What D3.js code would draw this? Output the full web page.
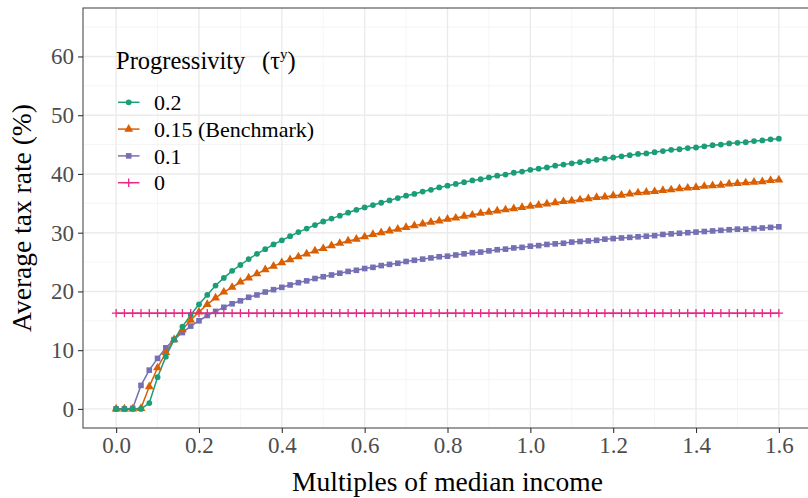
<!DOCTYPE html>
<html>
<head>
<meta charset="utf-8">
<script src="https://cdn.jsdelivr.net/npm/d3@7"></script>
<style>
  body { margin: 0; background: #fff; }
  svg { display: block; }
  svg text { font-family: "Liberation Serif", "Times New Roman", serif; }
</style>
</head>
<body>
<div id="chart"></div>
<script>
// income multiples (x), step 0.02
const incomeMultiples = [0, 0.02, 0.04, 0.06, 0.08, 0.1, 0.12, 0.14, 0.16, 0.18, 0.2, 0.22, 0.24, 0.26, 0.28, 0.3, 0.32, 0.34, 0.36, 0.38, 0.4, 0.42, 0.44, 0.46, 0.48, 0.5, 0.52, 0.54, 0.56, 0.58, 0.6, 0.62, 0.64, 0.66, 0.68, 0.7, 0.72, 0.74, 0.76, 0.78, 0.8, 0.82, 0.84, 0.86, 0.88, 0.9, 0.92, 0.94, 0.96, 0.98, 1, 1.02, 1.04, 1.06, 1.08, 1.1, 1.12, 1.14, 1.16, 1.18, 1.2, 1.22, 1.24, 1.26, 1.28, 1.3, 1.32, 1.34, 1.36, 1.38, 1.4, 1.42, 1.44, 1.46, 1.48, 1.5, 1.52, 1.54, 1.56, 1.58, 1.6];

// average tax rate (%) by progressivity
const rateTau020 = [0, 0, 0, 0, 1.0, 5.4, 8.9, 11.8, 14.0, 16.0, 17.8, 19.4, 21.0, 22.3, 23.5, 24.5, 25.5, 26.4, 27.2, 28.0, 28.7, 29.4, 30.1, 30.7, 31.3, 31.9, 32.4, 32.9, 33.4, 33.9, 34.3, 34.7, 35.1, 35.5, 35.9, 36.3, 36.6, 37.0, 37.3, 37.7, 38.0, 38.3, 38.6, 38.9, 39.1, 39.4, 39.7, 39.9, 40.2, 40.4, 40.7, 40.9, 41.1, 41.4, 41.6, 41.8, 42.0, 42.2, 42.4, 42.6, 42.8, 43.0, 43.2, 43.4, 43.5, 43.7, 43.9, 44.1, 44.2, 44.4, 44.5, 44.7, 44.9, 45.0, 45.2, 45.3, 45.4, 45.6, 45.7, 45.9, 46.0];

const rateTau015 = [0, 0, 0, 0.1, 3.8, 7.0, 9.6, 11.8, 13.5, 15.1, 16.5, 17.8, 18.9, 19.9, 20.7, 21.6, 22.3, 23.0, 23.7, 24.3, 24.9, 25.4, 25.9, 26.4, 26.9, 27.3, 27.8, 28.2, 28.6, 28.9, 29.3, 29.7, 30.0, 30.3, 30.6, 30.9, 31.2, 31.5, 31.8, 32.0, 32.3, 32.5, 32.8, 33.0, 33.3, 33.5, 33.7, 33.9, 34.1, 34.3, 34.5, 34.7, 34.9, 35.1, 35.3, 35.4, 35.6, 35.8, 36.0, 36.1, 36.3, 36.4, 36.6, 36.8, 36.9, 37.0, 37.2, 37.3, 37.5, 37.6, 37.7, 37.9, 38.0, 38.1, 38.3, 38.4, 38.5, 38.6, 38.7, 38.9, 39.0];

const rateTau010 = [0, 0, 0.1, 4.0, 6.6, 8.6, 10.4, 11.8, 13.0, 14.1, 15.0, 15.9, 16.6, 17.3, 17.9, 18.4, 19.0, 19.4, 19.9, 20.3, 20.7, 21.1, 21.5, 21.8, 22.2, 22.5, 22.8, 23.1, 23.4, 23.6, 23.9, 24.1, 24.4, 24.6, 24.8, 25.1, 25.3, 25.5, 25.7, 25.9, 26.0, 26.2, 26.4, 26.6, 26.7, 26.9, 27.1, 27.2, 27.4, 27.5, 27.7, 27.8, 28.0, 28.1, 28.2, 28.4, 28.5, 28.6, 28.7, 28.9, 29.0, 29.1, 29.2, 29.3, 29.4, 29.5, 29.7, 29.8, 29.9, 30.0, 30.1, 30.2, 30.3, 30.4, 30.5, 30.6, 30.6, 30.7, 30.8, 30.9, 31.0];

const rateTau000 = [16.3, 16.3, 16.3, 16.3, 16.3, 16.3, 16.3, 16.3, 16.3, 16.3, 16.3, 16.3, 16.3, 16.3, 16.3, 16.3, 16.3, 16.3, 16.3, 16.3, 16.3, 16.3, 16.3, 16.3, 16.3, 16.3, 16.3, 16.3, 16.3, 16.3, 16.3, 16.3, 16.3, 16.3, 16.3, 16.3, 16.3, 16.3, 16.3, 16.3, 16.3, 16.3, 16.3, 16.3, 16.3, 16.3, 16.3, 16.3, 16.3, 16.3, 16.3, 16.3, 16.3, 16.3, 16.3, 16.3, 16.3, 16.3, 16.3, 16.3, 16.3, 16.3, 16.3, 16.3, 16.3, 16.3, 16.3, 16.3, 16.3, 16.3, 16.3, 16.3, 16.3, 16.3, 16.3, 16.3, 16.3, 16.3, 16.3, 16.3, 16.3];

const xTicks = [0, 0.2, 0.4, 0.6, 0.8, 1.0, 1.2, 1.4, 1.6];
const yTicks = [0, 10, 20, 30, 40, 50, 60];
const xMinor = [0.1, 0.3, 0.5, 0.7, 0.9, 1.1, 1.3, 1.5];
const yMinor = [5, 15, 25, 35, 45, 55, 65];

const seriesList = [
  { label: "0.2", values: rateTau020, color: "#1B9E77", shape: "circle" },
  { label: "0.15 (Benchmark)", values: rateTau015, color: "#D95F02", shape: "triangle" },
  { label: "0.1", values: rateTau010, color: "#7570B3", shape: "square" },
  { label: "0", values: rateTau000, color: "#E7298A", shape: "plus" }
];

const W = 808, H = 498;
const panel = { left: 83, right: 812, top: 8, bottom: 428 };
const serif = "Liberation Serif, Times New Roman, serif";

const svg = d3.select("#chart").append("svg")
  .attr("width", W)
  .attr("height", H);

svg.append("rect").attr("width", W).attr("height", H).attr("fill", "#fff");

const x = d3.scaleLinear().domain([-0.08, 1.68]).range([panel.left, panel.right]);
const y = d3.scaleLinear().domain([-3.25, 68.25]).range([panel.bottom, panel.top]);

// grid
const grid = svg.append("g");
grid.selectAll(".ymin").data(yMinor).enter().append("line")
  .attr("x1", panel.left).attr("x2", panel.right)
  .attr("y1", d => y(d)).attr("y2", d => y(d))
  .attr("stroke", "#f2f2f2").attr("stroke-width", 0.8);
grid.selectAll(".xmin").data(xMinor).enter().append("line")
  .attr("y1", panel.top).attr("y2", panel.bottom)
  .attr("x1", d => x(d)).attr("x2", d => x(d))
  .attr("stroke", "#f2f2f2").attr("stroke-width", 0.8);
grid.selectAll(".ymaj").data(yTicks).enter().append("line")
  .attr("x1", panel.left).attr("x2", panel.right)
  .attr("y1", d => y(d)).attr("y2", d => y(d))
  .attr("stroke", "#ebebeb").attr("stroke-width", 1.4);
grid.selectAll(".xmaj").data(xTicks).enter().append("line")
  .attr("y1", panel.top).attr("y2", panel.bottom)
  .attr("x1", d => x(d)).attr("x2", d => x(d))
  .attr("stroke", "#ebebeb").attr("stroke-width", 1.4);

// point shapes
function drawMarker(sel, shape, color) {
  if (shape === "circle") {
    sel.append("circle").attr("r", 2.9).attr("fill", color);
  } else if (shape === "triangle") {
    sel.append("path").attr("d", d3.symbol(d3.symbolTriangle, 34)()).attr("fill", color);
  } else if (shape === "square") {
    sel.append("rect").attr("x", -2.8).attr("y", -2.8).attr("width", 5.6).attr("height", 5.6).attr("fill", color);
  } else {
    sel.append("path").attr("d", "M-4.2,0H4.2M0,-4.2V4.2").attr("stroke", color).attr("stroke-width", 1.3).attr("fill", "none");
  }
}

const line = d3.line().x((d, i) => x(incomeMultiples[i])).y(d => y(d));
const plot = svg.append("g");
const drawOrder = [2, 1, 0, 3];
drawOrder.forEach(si => {
  const s = seriesList[si];
  plot.append("path").datum(s.values)
    .attr("d", line)
    .attr("fill", "none")
    .attr("stroke", s.color)
    .attr("stroke-width", 1.5);
});
drawOrder.forEach(si => {
  const s = seriesList[si];
  plot.selectAll(null).data(s.values).enter().append("g")
    .attr("transform", (d, i) => `translate(${x(incomeMultiples[i])},${y(d)})`)
    .each(function() { drawMarker(d3.select(this), s.shape, s.color); });
});

// panel border
svg.append("rect")
  .attr("x", panel.left).attr("y", panel.top)
  .attr("width", panel.right - panel.left).attr("height", panel.bottom - panel.top)
  .attr("fill", "none").attr("stroke", "#4d4d4d").attr("stroke-width", 1.1);

// axes
const xAxis = svg.append("g").attr("transform", `translate(0,${panel.bottom})`)
  .call(d3.axisBottom(x).tickValues(xTicks).tickFormat(d3.format(".1f")).tickSize(5).tickPadding(4));
const yAxis = svg.append("g").attr("transform", `translate(${panel.left},0)`)
  .call(d3.axisLeft(y).tickValues(yTicks).tickSize(5).tickPadding(4));
[xAxis, yAxis].forEach(a => {
  a.attr("font-family", serif).attr("font-size", 23);
  a.select(".domain").remove();
  a.selectAll("line").attr("stroke", "#333").attr("stroke-width", 1.1);
  a.selectAll("text").attr("fill", "#4d4d4d");
});

// axis titles
svg.append("text")
  .attr("x", (panel.left + panel.right) / 2).attr("y", 491)
  .attr("text-anchor", "middle").attr("font-size", 27.5)
  .text("Multiples of median income");
svg.append("text")
  .attr("transform", `translate(31,${(panel.top + panel.bottom) / 2}) rotate(-90)`)
  .attr("text-anchor", "middle").attr("font-size", 27.5)
  .text("Average tax rate (%)");

// legend
const legend = svg.append("g");
const lt = legend.append("text").attr("x", 116).attr("y", 69).attr("font-size", 24.5);
lt.append("tspan").text("Progressivity");
lt.append("tspan").attr("x", 262).text("(\u03c4");
lt.append("tspan").attr("dy", -10).attr("font-size", 15).text("y");
lt.append("tspan").attr("dy", 10).text(")");

seriesList.forEach((s, i) => {
  const ry = 102.3 + i * 26.8;
  legend.append("line").attr("x1", 118).attr("x2", 139.5).attr("y1", ry).attr("y2", ry)
    .attr("stroke", s.color).attr("stroke-width", 1.5);
  drawMarker(legend.append("g").attr("transform", `translate(128.7,${ry})`), s.shape, s.color);
  legend.append("text").attr("x", 154).attr("y", ry).attr("dy", "0.35em")
    .attr("font-size", 22).text(s.label);
});
</script>
</body>
</html>
